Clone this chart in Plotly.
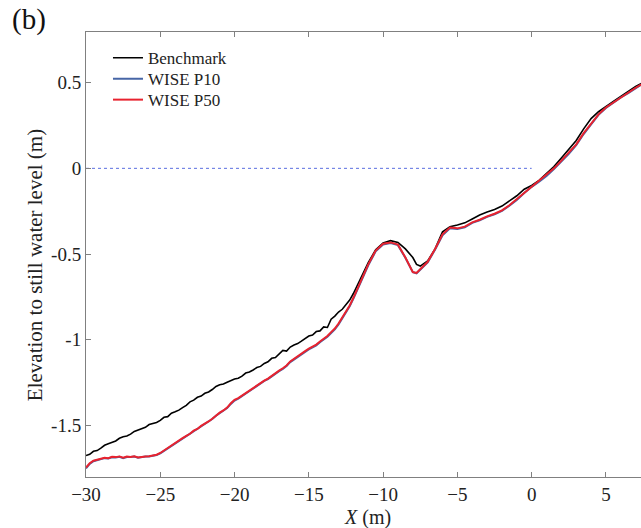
import plotly.graph_objects as go

# ---- data ----
x_bench = [-30, -29.75, -29.5, -29.25, -29, -28.75, -28.5, -28.25, -28, -27.75, -27.5, -27.25,
           -27, -26.75, -26.5, -26.25, -26, -25.75, -25.5, -25.25, -25, -24.75, -24.5, -24.25,
           -24, -23.75, -23.5, -23.25, -23, -22.75, -22.5, -22.25, -22, -21.75, -21.5, -21.25,
           -21, -20.75, -20.5, -20.25, -20, -19.75, -19.5, -19.25, -19, -18.75, -18.5, -18.25,
           -18, -17.75, -17.5, -17.25, -17, -16.75, -16.5, -16.25, -16, -15.75, -15.5, -15.25,
           -15, -14.75, -14.5, -14.25, -14, -13.75, -13.5, -13.25, -13, -12.75, -12.5, -12.25,
           -12, -11.5, -11, -10.5, -10, -9.5, -9, -8.5, -8, -7.75, -7.5, -7, -6.5, -6, -5.5, -5,
           -4.5, -4, -3.5, -3, -2.5, -2, -1.5, -1, -0.5, 0, 0.5, 1, 1.5, 2, 2.5, 3, 3.5, 4, 4.5,
           5, 5.5, 6, 6.5, 7, 7.5]
y_bench = [-1.675, -1.668, -1.650, -1.646, -1.632, -1.615, -1.606, -1.600, -1.590, -1.574,
           -1.565, -1.561, -1.550, -1.534, -1.525, -1.520, -1.510, -1.494, -1.488, -1.482,
           -1.470, -1.452, -1.448, -1.428, -1.420, -1.410, -1.395, -1.382, -1.362, -1.352,
           -1.335, -1.328, -1.312, -1.304, -1.290, -1.272, -1.262, -1.258, -1.247, -1.236,
           -1.228, -1.224, -1.212, -1.194, -1.188, -1.176, -1.162, -1.155, -1.138, -1.128,
           -1.108, -1.103, -1.082, -1.062, -1.066, -1.042, -1.030, -1.022, -1.008, -0.992,
           -0.978, -0.972, -0.952, -0.948, -0.925, -0.928, -0.880, -0.862, -0.838, -0.822,
           -0.792, -0.768, -0.730, -0.640, -0.550, -0.475, -0.435, -0.422, -0.432, -0.470,
           -0.520, -0.560, -0.570, -0.540, -0.470, -0.370, -0.340, -0.330, -0.318, -0.295,
           -0.272, -0.255, -0.240, -0.220, -0.190, -0.160, -0.122, -0.100, -0.070, -0.030,
           0.010, 0.060, 0.110, 0.162, 0.230, 0.290, 0.330, 0.362, 0.390, 0.420, 0.450, 0.478,
           0.500]

x_wise = [-30, -29.75, -29.5, -29.25, -29, -28.75, -28.5, -28.25, -28, -27.75, -27.5, -27.25,
          -27, -26.75, -26.5, -26.25, -26, -25.75, -25.5, -25.25, -25, -24.75, -24.5, -24.25,
          -24, -23.75, -23.5, -23.25, -23, -22.75, -22.5, -22.25, -22, -21.75, -21.5, -21.25,
          -21, -20.75, -20.5, -20.25, -20, -19.75, -19.5, -19.25, -19, -18.75, -18.5, -18.25,
          -18, -17.75, -17.5, -17.25, -17, -16.75, -16.5, -16.25, -16, -15.75, -15.5, -15.25,
          -15, -14.75, -14.5, -14.25, -14, -13.75, -13.5, -13.25, -13, -12.75, -12.5, -12.25,
          -12, -11.5, -11, -10.5, -10, -9.5, -9, -8.5, -8, -7.75, -7.5, -7, -6.5, -6, -5.5, -5,
          -4.5, -4, -3.5, -3, -2.5, -2, -1.5, -1, -0.5, 0, 0.5, 1, 1.5, 2, 2.5, 3, 3.5, 4, 4.5,
          5, 5.5, 6, 6.5, 7, 7.5]
y_p10 = [-1.750, -1.724, -1.708, -1.702, -1.697, -1.690, -1.692, -1.685, -1.686, -1.682,
         -1.690, -1.683, -1.684, -1.681, -1.688, -1.684, -1.681, -1.681, -1.676, -1.672,
         -1.662, -1.648, -1.634, -1.617, -1.603, -1.590, -1.575, -1.563, -1.550, -1.533,
         -1.522, -1.505, -1.492, -1.479, -1.462, -1.443, -1.428, -1.415, -1.398, -1.374,
         -1.354, -1.343, -1.328, -1.317, -1.303, -1.285, -1.273, -1.253, -1.240, -1.229,
         -1.213, -1.195, -1.183, -1.170, -1.153, -1.130, -1.114, -1.102, -1.084, -1.070,
         -1.056, -1.044, -1.032, -1.014, -0.999, -0.982, -0.960, -0.939, -0.910, -0.877,
         -0.840, -0.805, -0.760, -0.660, -0.565, -0.484, -0.444, -0.436, -0.448, -0.522,
         -0.606, -0.612, -0.592, -0.548, -0.474, -0.390, -0.350, -0.354, -0.344, -0.318,
         -0.303, -0.283, -0.268, -0.248, -0.218, -0.184, -0.144, -0.108, -0.078, -0.044,
         -0.004, 0.040, 0.085, 0.135, 0.200, 0.256, 0.312, 0.352, 0.383, 0.413, 0.439, 0.469,
         0.494]
y_p50 = [-1.745, -1.720, -1.705, -1.700, -1.695, -1.688, -1.690, -1.682, -1.684, -1.680,
         -1.688, -1.681, -1.683, -1.679, -1.686, -1.682, -1.680, -1.679, -1.675, -1.670,
         -1.660, -1.645, -1.632, -1.614, -1.600, -1.588, -1.573, -1.560, -1.548, -1.530,
         -1.520, -1.502, -1.490, -1.476, -1.460, -1.440, -1.425, -1.412, -1.395, -1.370,
         -1.350, -1.340, -1.325, -1.314, -1.300, -1.282, -1.270, -1.250, -1.238, -1.226,
         -1.210, -1.192, -1.180, -1.166, -1.150, -1.126, -1.110, -1.098, -1.080, -1.066,
         -1.052, -1.040, -1.028, -1.010, -0.995, -0.978, -0.955, -0.934, -0.905, -0.872,
         -0.835, -0.800, -0.755, -0.655, -0.560, -0.480, -0.440, -0.432, -0.445, -0.520,
         -0.605, -0.610, -0.590, -0.545, -0.470, -0.385, -0.345, -0.350, -0.340, -0.315,
         -0.300, -0.280, -0.265, -0.245, -0.215, -0.180, -0.140, -0.105, -0.075, -0.040,
         0.000, 0.045, 0.090, 0.140, 0.205, 0.260, 0.315, 0.355, 0.385, 0.415, 0.440, 0.470,
         0.495]

assert len(x_bench) == len(y_bench), (len(x_bench), len(y_bench))
assert len(x_wise) == len(y_p10) == len(y_p50), (len(x_wise), len(y_p10), len(y_p50))

swl_x = [-30, 0]
swl_y = [0, 0]

x_ticks = [-30, -25, -20, -15, -10, -5, 0, 5]
y_ticks = [-1.5, -1, -0.5, 0, 0.5]
y_tick_text = ["-1.5", "-1", "-0.5", "0", "0.5"]

FONT = "Liberation Serif, Times New Roman, serif"
TXT = "#222222"

fig = go.Figure()
fig.add_trace(go.Scatter(x=swl_x, y=swl_y, mode="lines", showlegend=False,
                         line=dict(color="#5a6ee0", width=1, dash="dot")))
fig.add_trace(go.Scatter(x=x_bench, y=y_bench, mode="lines", name="Benchmark", legend="legend",
                         line=dict(color="#000000", width=1.6)))
fig.add_trace(go.Scatter(x=x_wise, y=y_p10, mode="lines", name="WISE P10", legend="legend2",
                         line=dict(color="#4766a6", width=2)))
fig.add_trace(go.Scatter(x=x_wise, y=y_p50, mode="lines", name="WISE P50", legend="legend3",
                         line=dict(color="#e8232f", width=2)))

axis_common = dict(showgrid=False, zeroline=False, showline=True, linecolor="#808080",
                   linewidth=1, ticks="inside", ticklen=5, tickcolor="#808080", automargin=False,
                   tickfont=dict(family=FONT, size=19, color=TXT))

fig.update_xaxes(range=[-30, 7.36], tickvals=x_ticks, mirror="ticks", ticklabelstandoff=0,
                 **axis_common)
fig.update_yaxes(range=[-1.8, 0.795], tickvals=y_ticks, ticktext=y_tick_text, **axis_common)

def leg(y):
    return dict(x=0.0396, y=y, xanchor="left", yanchor="middle", bgcolor="rgba(0,0,0,0)",
                borderwidth=0, font=dict(family=FONT, size=17, color=TXT))

fig.update_layout(
    width=641, height=528,
    margin=dict(l=86, r=0, t=32, b=51, autoexpand=False),
    plot_bgcolor="white", paper_bgcolor="white",
    font=dict(family=FONT, color=TXT),
    legend=leg(0.941), legend2=leg(0.894), legend3=leg(0.847),
    annotations=[
        dict(text="(b)", xref="paper", yref="paper", x=-0.137, y=1.07, xanchor="left",
             yanchor="top", showarrow=False, font=dict(family=FONT, size=29, color="#111111")),
        dict(text="Elevation to still water level (m)", xref="paper", yref="paper",
             x=-0.0919, y=0.476, xanchor="center", yanchor="middle", textangle=-90,
             showarrow=False, font=dict(family=FONT, size=21, color=TXT)),
        dict(text="<i>X</i> (m)", xref="paper", yref="paper", x=0.508, y=-0.09,
             xanchor="center", yanchor="middle", showarrow=False,
             font=dict(family=FONT, size=20, color=TXT)),
    ],
)

fig.write_html("out.html", config={"displayModeBar": False},
               post_script="document.body.style.margin='0px';")
